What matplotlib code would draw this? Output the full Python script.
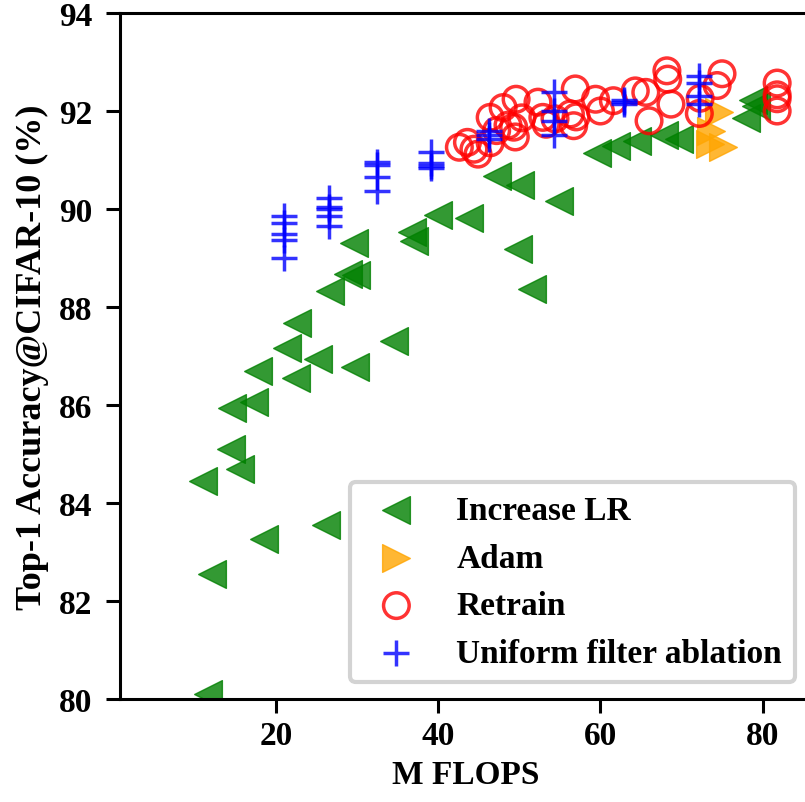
import numpy as np
import matplotlib
matplotlib.use("Agg")
import matplotlib.pyplot as plt

plt.rcParams['font.family'] = ['Liberation Serif', 'DejaVu Serif']
plt.rcParams['font.weight'] = 'bold'

# Increase LR (green, left triangles)
lr_flops = [11.0, 12.1, 11.6, 18.5, 26.1, 14.6, 17.3, 14.4, 15.6, 17.8, 22.5, 25.2,
            29.7, 34.5, 21.4, 22.6, 26.7, 28.9, 29.8, 29.6, 36.7, 36.95, 40.0, 43.8,
            47.2, 50.1, 54.9, 49.8, 51.6, 59.6, 61.9, 64.5, 67.8, 69.7, 78.0, 78.8, 79.2]
lr_acc = [84.45, 82.55, 80.1, 83.27, 83.56, 85.94, 86.06, 85.1, 84.7, 86.69, 86.56, 86.94,
          86.78, 87.3, 87.16, 87.68, 88.32, 88.67, 88.65, 89.31, 89.54, 89.34, 89.88, 89.82,
          90.67, 90.48, 90.16, 89.18, 88.37, 91.14, 91.28, 91.38, 91.52, 91.42, 91.86, 92.23, 92.1]

# Adam (orange, right triangles)
adam_flops = [74.6, 73.5, 75.1, 73.6]
adam_acc = [91.97, 91.33, 91.26, 91.6]

# Retrain (red circles)
re_flops = [42.6, 43.6, 44.4, 44.9, 46.4, 46.4, 47.2, 48.0, 49.6, 49.5, 48.6, 50.3, 49.3,
            52.3, 52.9, 53.3, 54.4, 56.9, 57.0, 56.3, 56.7, 59.4, 60.0, 61.6, 64.3, 65.6,
            66.0, 68.2, 68.3, 68.7, 72.2, 72.3, 74.4, 75.0, 81.8, 81.8, 81.8, 81.8]
re_acc = [91.26, 91.36, 91.22, 91.12, 91.87, 91.35, 91.6, 92.07, 92.24, 91.47, 91.71, 91.86, 91.67,
          92.18, 91.87, 91.73, 91.84, 92.45, 91.88, 91.94, 91.7, 92.24, 92.0, 92.21, 92.41, 92.38,
          91.8, 92.82, 92.65, 92.14, 91.95, 92.26, 92.52, 92.76, 92.57, 92.33, 92.25, 92.0]

# Uniform filter ablation (blue plus)
uni_flops = [21.0] * 5 + [26.5] * 5 + [32.4] * 4 + [39.1] * 4 + [46.3] * 3 + [54.3] * 4 \
            + [62.9] * 3 + [72.1] * 4
uni_acc = [89.86, 89.71, 89.49, 89.37, 88.99,
           90.22, 90.05, 90.01, 89.86, 89.66,
           90.95, 90.9, 90.66, 90.37,
           91.16, 90.94, 90.87, 90.83,
           91.6, 91.5, 91.43,
           92.38, 92.0, 91.8, 91.5,
           92.22, 92.14, 92.18,
           92.72, 92.58, 92.31, 92.14]

fig = plt.figure(figsize=(8.05, 8.03), dpi=100)
# axes runs a little past the right edge, like the cropped original
ax = fig.add_axes([120 / 805, 1 - 700 / 803, 692 / 805, 686 / 803])

ax.scatter(lr_flops, lr_acc, marker='<', s=400, color='green', alpha=0.8, label='Increase LR')
ax.scatter(adam_flops, adam_acc, marker='>', s=400, color='orange', alpha=0.8, label='Adam')
ax.scatter(re_flops, re_acc, marker='o', s=340, facecolors='none', edgecolors='red',
           linewidths=2.5, alpha=0.8, label='Retrain')
ax.scatter(uni_flops, uni_acc, marker='+', s=340, color='blue', linewidths=2.5, alpha=0.8,
           label='Uniform filter ablation')

ax.set_xlim(0.74, 86.1)
ax.set_ylim(80, 94)
ax.set_xticks([20, 40, 60, 80])
ax.set_yticks([80, 82, 84, 86, 88, 90, 92, 94])
ax.tick_params(labelsize=24, width=2.2, length=10)
ax.tick_params(axis='x', pad=5)
ax.tick_params(axis='y', pad=10)
for s in ax.spines.values():
    s.set_linewidth(2.2)
ax.set_xlabel('M FLOPS', fontsize=24, fontweight='bold', labelpad=6)
ax.set_ylabel('Top-1 Accuracy@CIFAR-10 (%)', fontsize=26, fontweight='bold', labelpad=7)

leg = ax.legend(loc='lower right', fontsize=24, frameon=True, fancybox=True,
                edgecolor='lightgray')
leg.get_frame().set_linewidth(3)
leg.get_frame().set_alpha(1)

fig.savefig('out.png', dpi=100)
